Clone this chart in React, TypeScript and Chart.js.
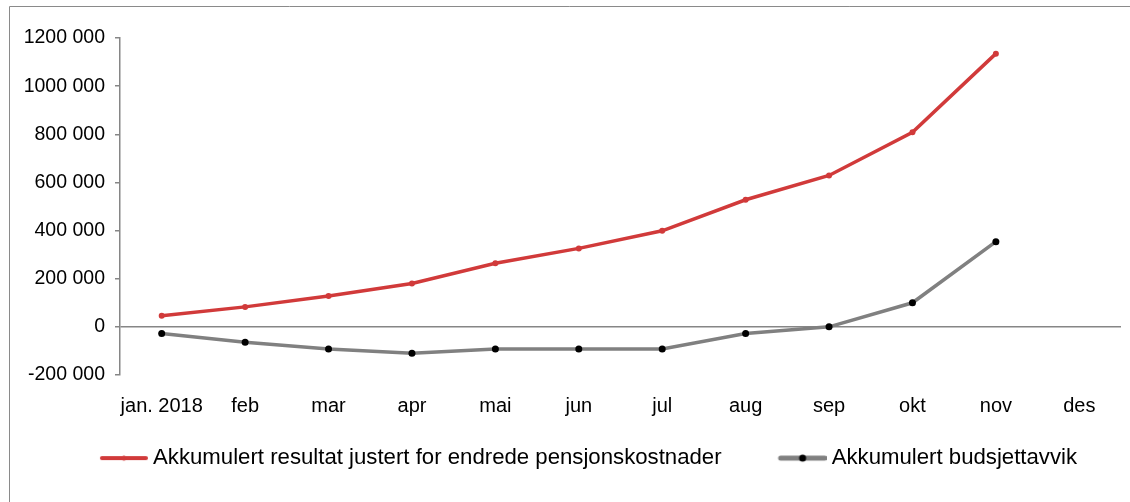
import React, { useEffect, useRef } from "react";
import { Chart, registerables } from "chart.js";

Chart.register(...registerables);

const categories = ["jan. 2018", "feb", "mar", "apr", "mai", "jun", "jul", "aug", "sep", "okt", "nov", "des"];
const resultatValues = [46000, 83000, 128000, 180000, 264000, 326000, 399000, 528000, 629000, 808000, 1135000, null];
const budsjettValues = [-28000, -64000, -92000, -110000, -92000, -92000, -92000, -28000, 0, 100000, 354000, null];
const seriesLabels = ["Akkumulert resultat justert for endrede pensjonskostnader", "Akkumulert budsjettavvik"];
const yMin = -200000;
const yMax = 1200000;
const yStep = 200000;

const RED = "#d13a3a";
const GRAY = "#808080";
const AXIS = "#868686";

function formatTick(v: number): string {
  if (v === 0) return "0";
  const sign = v < 0 ? "-" : "";
  const a = Math.abs(v);
  const thousands = Math.floor(a / 1000);
  const rest = a % 1000;
  return sign + thousands + " " + String(rest).padStart(3, "0");
}

// legend swatch: 60px wide image, visible 48px line in it from 6..54 relative to box start
function legendImage(lineColor: string, dotColor: string, lineW: number, dotR: number): HTMLCanvasElement {
  const c = document.createElement("canvas");
  c.width = 60;
  c.height = 12;
  const g = c.getContext("2d")!;
  g.strokeStyle = lineColor;
  g.lineWidth = lineW;
  g.lineCap = "round";
  g.beginPath();
  g.moveTo(14, 6);
  g.lineTo(58, 6);
  g.stroke();
  g.fillStyle = dotColor;
  g.beginPath();
  g.arc(36, 6, dotR, 0, Math.PI * 2);
  g.fill();
  return c;
}

const borderPlugin = {
  id: "outerBorder",
  afterLayout(chart: any) {
    const lg = chart.legend;
    if (lg) {
      lg.top = 396;
      lg.bottom = 502;
      lg.height = 106;
      lg.left = 25;
      lg.right = 1146;
    }
  },
  afterDraw(chart: any) {
    const ctx = chart.ctx;
    ctx.save();
    ctx.strokeStyle = "#8a8a8a";
    ctx.lineWidth = 1;
    ctx.beginPath();
    ctx.moveTo(9.5, chart.height);
    ctx.lineTo(9.5, 6.5);
    ctx.lineTo(chart.width, 6.5);
    ctx.stroke();
    ctx.restore();
  },
};

export default function App() {
  const ref = useRef<HTMLCanvasElement | null>(null);

  useEffect(() => {
    document.body.style.margin = "0";
    document.body.style.overflow = "hidden";
    const canvas = ref.current!;
    const imgs = [legendImage(RED, RED, 4, 2.5), legendImage(GRAY, "#000", 5, 3.5)];
    const chart = new Chart(canvas, {
      type: "line",
      data: {
        labels: categories,
        datasets: [
          {
            label: seriesLabels[0],
            data: resultatValues,
            borderColor: RED,
            backgroundColor: RED,
            borderWidth: 3.5,
            pointRadius: 3,
            pointBackgroundColor: RED,
            pointBorderWidth: 0,
            tension: 0,
          },
          {
            label: seriesLabels[1],
            data: budsjettValues,
            borderColor: GRAY,
            backgroundColor: GRAY,
            borderWidth: 3.5,
            pointRadius: 3.5,
            pointBackgroundColor: "#000",
            pointBorderWidth: 0,
            tension: 0,
          },
        ],
      },
      options: {
        animation: false,
        responsive: false,
        maintainAspectRatio: false,
        layout: { padding: { top: 38, right: 9, left: 0, bottom: 0 } },
        plugins: {
          tooltip: { enabled: false },
          legend: {
            position: "bottom",
            maxHeight: 65,
            labels: {
              usePointStyle: true,
              pointStyleWidth: 48,
              boxHeight: 12,
              padding: 51,
              color: "#000",
              font: { family: "'Liberation Sans', Arial, sans-serif", size: 22.2 },
              generateLabels: (ch: any) =>
                ch.data.datasets.map((ds: any, i: number) => ({
                  text: ds.label,
                  pointStyle: imgs[i],
                  fillStyle: ds.borderColor,
                  strokeStyle: ds.borderColor,
                  lineWidth: 0,
                  hidden: false,
                  datasetIndex: i,
                  fontColor: "#000",
                })),
            },
          },
        },
        scales: {
          x: {
            offset: true,
            grid: { display: false, drawTicks: false },
            border: { display: false },
            ticks: {
              color: "#000",
              padding: 19,
              maxRotation: 0,
              autoSkip: false,
              font: { family: "'Liberation Sans', Arial, sans-serif", size: 20 },
            },
          },
          y: {
            min: yMin,
            max: yMax,
            grid: {
              drawOnChartArea: true,
              drawTicks: true,
              tickLength: 5,
              color: (c: any) => (c.tick && c.tick.value === 0 ? AXIS : "rgba(0,0,0,0)"),
              tickColor: AXIS,
              lineWidth: 1.5,
            },
            border: { display: true, color: AXIS, width: 1.5 },
            ticks: {
              stepSize: yStep,
              color: "#000",
              padding: 10,
              font: { family: "'Liberation Sans', Arial, sans-serif", size: 19.5 },
              callback: (v: any) => formatTick(Number(v)),
            },
            afterFit: (s: any) => {
              s.width = 120;
            },
          },
        },
      },
      plugins: [borderPlugin],
    } as any);
    return () => chart.destroy();
  }, []);

  return <canvas ref={ref} width={1130} height={502} style={{ display: "block" }} />;
}
